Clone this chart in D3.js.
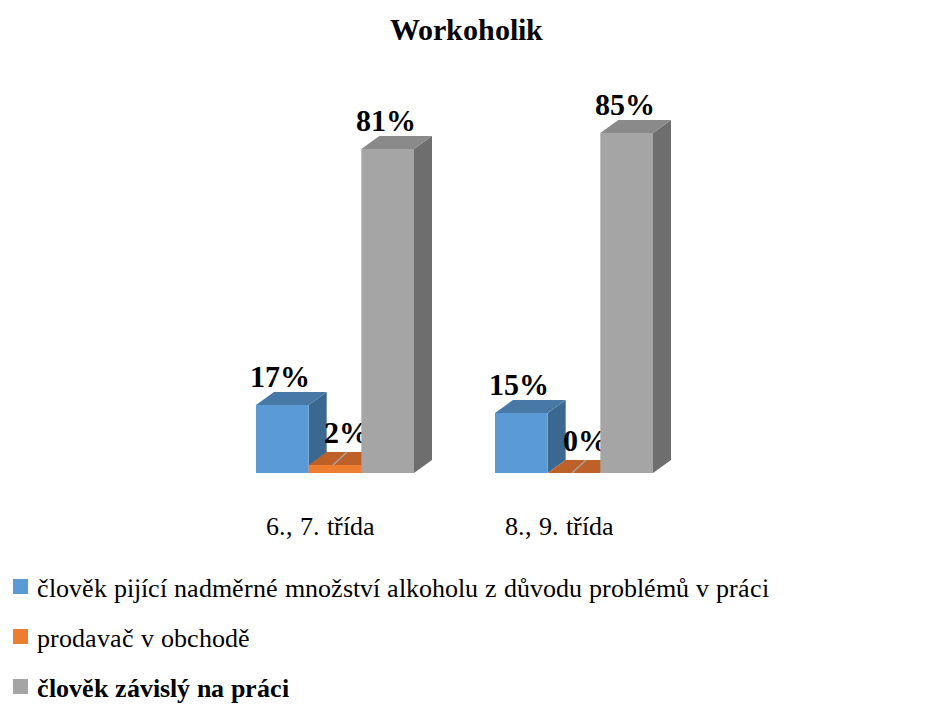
<!DOCTYPE html>
<html lang="cs">
<head>
<meta charset="utf-8">
<script src="https://cdn.jsdelivr.net/npm/d3@7"></script>
<style>
  @font-face { font-family: "ChartSerif"; src: local("Liberation Serif"), local("LiberationSerif"); font-weight: normal; }
  @font-face { font-family: "ChartSerif"; src: local("Liberation Serif Bold"), local("LiberationSerif-Bold"); font-weight: bold; }
  body { margin: 0; background: #fff; }
  svg text { font-family: "ChartSerif", "Liberation Serif", "Times New Roman", serif; }
</style>
</head>
<body>
<svg width="928" height="704"></svg>
<script>
// data
const categories = ["6., 7. třída", "8., 9. třída"];
const seriesNames = [
  "člověk pijící nadměrné množství alkoholu z důvodu problémů v práci",
  "prodavač v obchodě",
  "člověk závislý na práci"
];
const values = [
  [17, 2, 81],
  [15, 0, 85]
];

// colours per series: front, top, side
const colors = [
  { front: "#5B9BD5", top: "#4878A6", side: "#3B6890" },
  { front: "#ED7D31", top: "#BE6128", side: "#A9561F" },
  { front: "#A5A5A5", top: "#8A8A8A", side: "#6E6E6E" }
];

let depthX = 18, depthY = 13;

let svg = d3.select("svg");

let x0 = d3.scaleBand()
           .domain(categories)
           .range([256, 653])
           .paddingInner(81 / 239)
           .paddingOuter(0);

let x1 = d3.scaleBand()
           .domain(d3.range(seriesNames.length))
           .range([0, x0.bandwidth()]);

let y = d3.scaleLinear()
          .domain([0, 100])
          .range([473, 73]);

// title
svg.append("text")
   .attr("x", 466)
   .attr("y", 40)
   .attr("text-anchor", "middle")
   .attr("font-size", 30)
   .attr("font-weight", "bold")
   .text("Workoholik");

let groups = svg.selectAll("g.cat")
                .data(categories)
                .enter()
                .append("g")
                .classed("cat", true)
                .attr("transform", d => `translate(${x0(d)},0)`);

groups.each(function(cat, ci) {
  let g = d3.select(this);
  values[ci].forEach(function(v, si) {
    let c = colors[si];
    let x = x1(si), w = x1.bandwidth();
    let top = y(v), base = y(0);
    let bar = g.append("g");
    // side face
    bar.append("path")
       .attr("d", `M${x + w},${top} L${x + w + depthX},${top - depthY} L${x + w + depthX},${base - depthY} L${x + w},${base} Z`)
       .attr("fill", c.side);
    // top face
    bar.append("path")
       .attr("d", `M${x},${top} L${x + depthX},${top - depthY} L${x + w + depthX},${top - depthY} L${x + w},${top} Z`)
       .attr("fill", c.top);
    // front face
    bar.append("rect")
       .attr("x", x)
       .attr("y", top)
       .attr("width", w)
       .attr("height", base - top)
       .attr("fill", c.front);
    // small depth line seen on the low orange bars
    if (si === 1) {
      bar.append("line")
         .attr("x1", x + w / 2 - 2)
         .attr("y1", top)
         .attr("x2", x + w / 2 + depthX - 6)
         .attr("y2", top - depthY)
         .attr("stroke", "#A5A5A5")
         .attr("stroke-width", 1.5);
    }
    // value label
    g.append("text")
     .attr("x", x + w / 2 + (si === 1 ? 11 : -2))
     .attr("y", top - (si === 1 ? 22 : 18))
     .attr("text-anchor", "middle")
     .attr("font-size", 30)
     .attr("font-weight", "bold")
     .text(v + "%");
  });

  // category label
  g.append("text")
   .attr("x", x0.bandwidth() / 2 - 15)
   .attr("y", 535)
   .attr("text-anchor", "middle")
   .attr("font-size", 26)
   .text(cat);
});

// legend
let legend = svg.selectAll("g.legend")
                .data(seriesNames)
                .enter()
                .append("g")
                .classed("legend", true)
                .attr("transform", (d, i) => `translate(13,${597 + i * 50})`);

legend.append("rect")
      .attr("x", 0)
      .attr("y", -18)
      .attr("width", 15)
      .attr("height", 15)
      .attr("fill", (d, i) => colors[i].front);

legend.append("text")
      .attr("x", 24)
      .attr("y", 0)
      .attr("font-size", 26)
      .attr("font-weight", (d, i) => i === 2 ? "bold" : "normal")
      .text(d => d);
</script>
</body>
</html>
